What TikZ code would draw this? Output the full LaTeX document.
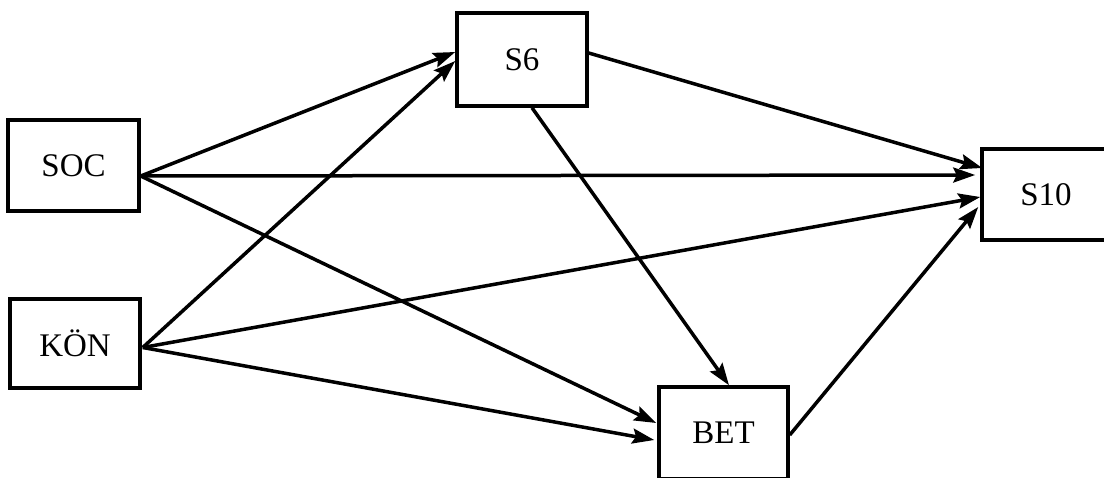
\documentclass[tikz,border=0pt]{standalone}
\usepackage{fontspec}
\setmainfont{Liberation Serif}
\usetikzlibrary{arrows.meta,calc}
\begin{document}
\begin{tikzpicture}[x=1pt,y=-1pt,
  box/.style={draw, line width=3.5pt, inner sep=0pt, font=\fontsize{33}{38}\selectfont},
  link/.style={line width=3.5pt, -{Stealth[length=22pt,width=15pt,inset=3.5pt]}}]
  \clip (0,0) rectangle (1104,477);

  % variables
  \node[box, minimum width=131pt, minimum height=91pt] (soc) at (73.5,165.5) {SOC};
  \node[box, minimum width=130pt, minimum height=89pt] (kon) at (75,343.5) {KÖN};
  \node[box, minimum width=130pt, minimum height=93pt] (s6)  at (522,59.5) {S6};
  \node[box, minimum width=128pt, minimum height=91pt] (s10) at (1046,194.5) {S10};
  \node[box, minimum width=129pt, minimum height=92pt] (bet) at (723.5,433) {BET};

  % paths
  \draw[link] ($(soc.east)+(0,10.5)$) -- ($(s6.west)+(0,-7.5)$);
  \draw[link] ($(soc.east)+(0,10.5)$) -- ($(s10.west)+(-5,-19.5)$);
  \draw[link] ($(soc.east)+(0,10.5)$) -- ($(bet.west)+(-1,-10)$);
  \draw[link] ($(kon.east)+(1,4)$) -- ($(s6.west)+(0,1.5)$);
  \draw[link] ($(kon.east)+(1,4)$) -- ($(s10.west)+(0,2.5)$);
  \draw[link] ($(kon.east)+(1,4)$) -- ($(bet.west)+(-3,7)$);
  \draw[link] ($(s6.south)+(10,0)$) -- ($(bet.north)+(5.5,0)$);
  \draw[link] ($(s6.east)+(0,-6.5)$) -- ($(s10.west)+(2,-26.5)$);
  \draw[link] ($(bet.east)+(0,2)$) -- ($(s10.west)+(-2,12.5)$);
\end{tikzpicture}
\end{document}
